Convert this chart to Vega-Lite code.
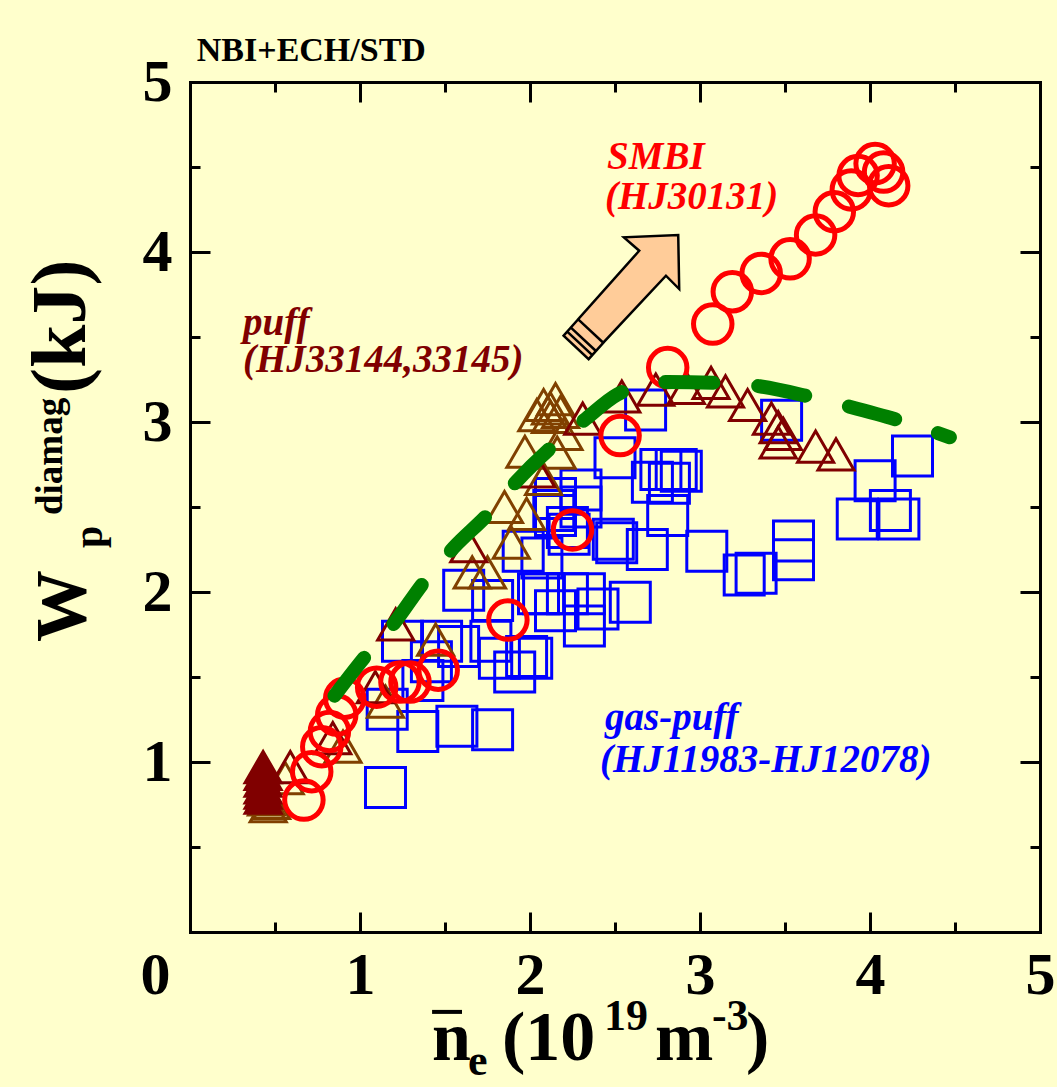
{
  "$schema": "https://vega.github.io/schema/vega-lite/v6.json",
  "width": 850,
  "height": 850,
  "autosize": {"type": "none"},
  "padding": {"left": 190, "top": 82, "right": 17, "bottom": 155},
  "background": "#FFFFCC",
  "config": {
    "view": {"stroke": null},
    "axis": {
      "domainColor": "black",
      "domainWidth": 3,
      "domainCap": "square",
      "tickColor": "black",
      "tickWidth": 3,
      "labelFont": "Liberation Serif",
      "labelFontSize": 60,
      "labelFontWeight": "bold",
      "labelColor": "black",
      "grid": false,
      "title": null
    }
  },
  "datasets": {
    "gaspuff": [
      {"x": 1.15, "y": 0.85}, {"x": 1.16, "y": 1.31}, {"x": 1.34, "y": 1.18}, {"x": 1.57, "y": 1.21},
      {"x": 1.78, "y": 1.19}, {"x": 1.25, "y": 1.71}, {"x": 1.42, "y": 1.59}, {"x": 1.37, "y": 1.48},
      {"x": 1.61, "y": 2.01}, {"x": 1.77, "y": 1.71}, {"x": 1.91, "y": 1.53}, {"x": 2.01, "y": 1.61},
      {"x": 1.96, "y": 2.24}, {"x": 2.14, "y": 2.48}, {"x": 2.30, "y": 2.60}, {"x": 2.50, "y": 2.79},
      {"x": 2.32, "y": 1.80}, {"x": 2.15, "y": 1.89}, {"x": 2.68, "y": 3.07}, {"x": 2.72, "y": 2.645},
      {"x": 2.77, "y": 2.72}, {"x": 2.86, "y": 2.72}, {"x": 2.89, "y": 2.71}, {"x": 2.81, "y": 2.45},
      {"x": 2.69, "y": 2.25}, {"x": 2.49, "y": 2.31}, {"x": 2.15, "y": 2.55}, {"x": 2.23, "y": 2.34},
      {"x": 2.08, "y": 1.99}, {"x": 2.40, "y": 1.90}, {"x": 2.59, "y": 1.94}, {"x": 1.82, "y": 1.61},
      {"x": 1.98, "y": 1.62}, {"x": 3.48, "y": 3.01}, {"x": 3.04, "y": 2.24}, {"x": 3.26, "y": 2.10},
      {"x": 3.33, "y": 2.11}, {"x": 3.55, "y": 2.30}, {"x": 3.55, "y": 2.19}, {"x": 4.03, "y": 2.655},
      {"x": 4.25, "y": 2.80}, {"x": 3.925, "y": 2.43}, {"x": 4.12, "y": 2.48}, {"x": 4.17, "y": 2.43},
      {"x": 2.22, "y": 2.38}, {"x": 2.05, "y": 1.99}, {"x": 2.32, "y": 1.99}, {"x": 2.51, "y": 2.29},
      {"x": 2.07, "y": 2.20}, {"x": 1.78, "y": 1.95}, {"x": 2.22, "y": 1.99}, {"x": 2.15, "y": 2.45},
      {"x": 1.48, "y": 1.71}, {"x": 2.82, "y": 2.64}, {"x": 2.30, "y": 2.50}, {"x": 1.58, "y": 1.68}
    ],
    "puff33144": [
      {"x": 2.74, "y": 3.19}, {"x": 2.92, "y": 3.20}, {"x": 3.065, "y": 3.23}, {"x": 3.15, "y": 3.18},
      {"x": 3.28, "y": 3.10}, {"x": 3.42, "y": 3.02}, {"x": 3.46, "y": 2.97}, {"x": 3.49, "y": 2.93},
      {"x": 3.46, "y": 2.88}, {"x": 3.68, "y": 2.855}, {"x": 3.80, "y": 2.81}, {"x": 2.31, "y": 3.02},
      {"x": 2.54, "y": 3.15}, {"x": 2.04, "y": 2.71}, {"x": 1.64, "y": 2.27}, {"x": 1.21, "y": 1.81},
      {"x": 1.09, "y": 1.44}, {"x": 0.84, "y": 1.14}, {"x": 0.59, "y": 0.97}
    ],
    "puff33145": [
      {"x": 2.15, "y": 3.135}, {"x": 2.08, "y": 3.10}, {"x": 2.12, "y": 3.03}, {"x": 2.04, "y": 3.04},
      {"x": 2.12, "y": 3.08}, {"x": 2.18, "y": 3.06}, {"x": 2.20, "y": 2.93}, {"x": 1.97, "y": 2.825},
      {"x": 2.16, "y": 2.82}, {"x": 2.08, "y": 2.665}, {"x": 1.85, "y": 2.50}, {"x": 1.98, "y": 2.46},
      {"x": 1.89, "y": 2.29}, {"x": 1.66, "y": 2.115}, {"x": 1.75, "y": 2.115}, {"x": 1.445, "y": 1.72},
      {"x": 1.15, "y": 1.355}, {"x": 0.90, "y": 1.09}, {"x": 0.56, "y": 0.905}, {"x": 0.46, "y": 0.74},
      {"x": 0.48, "y": 0.76}, {"x": 0.45, "y": 0.78}
    ],
    "puffstart": [
      {"x": 0.43, "y": 0.97}, {"x": 0.43, "y": 0.93}, {"x": 0.43, "y": 0.89},
      {"x": 0.43, "y": 0.85}, {"x": 0.43, "y": 0.82}, {"x": 0.43, "y": 0.79}
    ],
    "smbi": [
      {"x": 0.67, "y": 0.776}, {"x": 0.716, "y": 0.943}, {"x": 0.775, "y": 1.09}, {"x": 0.82, "y": 1.18},
      {"x": 0.863, "y": 1.276}, {"x": 0.91, "y": 1.375}, {"x": 1.098, "y": 1.44}, {"x": 1.235, "y": 1.47},
      {"x": 1.294, "y": 1.47}, {"x": 1.46, "y": 1.54}, {"x": 1.87, "y": 1.835}, {"x": 2.25, "y": 2.365},
      {"x": 2.53, "y": 2.92}, {"x": 2.81, "y": 3.32}, {"x": 3.075, "y": 3.576}, {"x": 3.19, "y": 3.766},
      {"x": 3.36, "y": 3.874}, {"x": 3.53, "y": 3.96}, {"x": 3.68, "y": 4.10}, {"x": 3.79, "y": 4.237},
      {"x": 3.89, "y": 4.365}, {"x": 3.93, "y": 4.45}, {"x": 4.03, "y": 4.52}, {"x": 4.08, "y": 4.47},
      {"x": 4.11, "y": 4.39}
    ],
    "trend": [
      {"x": 0.85, "y": 1.39}, {"x": 1.03, "y": 1.62}, {"x": 1.20, "y": 1.815}, {"x": 1.37, "y": 2.05},
      {"x": 1.55, "y": 2.26}, {"x": 1.755, "y": 2.46}, {"x": 1.92, "y": 2.65}, {"x": 2.13, "y": 2.855},
      {"x": 2.33, "y": 3.02}, {"x": 2.51, "y": 3.16}, {"x": 2.65, "y": 3.215}, {"x": 2.81, "y": 3.235},
      {"x": 3.11, "y": 3.23}, {"x": 3.35, "y": 3.21}, {"x": 3.64, "y": 3.15}, {"x": 3.88, "y": 3.09},
      {"x": 4.17, "y": 3.01}, {"x": 4.47, "y": 2.91}
    ],
    "arrow": [{"x": 2.532, "y": 3.734}],
    "notes": [
      {"t": "SMBI", "x": 2.453, "y": 4.49, "c": "#FF0000"},
      {"t": "(HJ30131)", "x": 2.441, "y": 4.255, "c": "#FF0000"},
      {"t": "puff", "x": 0.312, "y": 3.512, "c": "#800000"},
      {"t": "(HJ33144,33145)", "x": 0.312, "y": 3.294, "c": "#800000"},
      {"t": "gas-puff", "x": 2.441, "y": 1.188, "c": "#0000FF"},
      {"t": "(HJ11983-HJ12078)", "x": 2.412, "y": 0.941, "c": "#0000FF"}
    ],
    "heads": [
      {"t": "NBI+ECH/STD", "x": 0.04, "y": 5.124, "fs": 34},
      {"t": "n", "x": 1.424, "y": -0.753, "fs": 70},
      {"t": "e", "x": 1.635, "y": -0.841, "fs": 44},
      {"t": "(10", "x": 1.835, "y": -0.753, "fs": 70},
      {"t": "19", "x": 2.435, "y": -0.576, "fs": 44},
      {"t": "m", "x": 2.735, "y": -0.753, "fs": 70},
      {"t": "-3", "x": 3.07, "y": -0.576, "fs": 44},
      {"t": ")", "x": 3.27, "y": -0.753, "fs": 70}
    ],
    "ytitle": [
      {"t": "W", "x": -0.618, "y": 1.706, "fs": 72},
      {"t": "p", "x": -0.518, "y": 2.259, "fs": 40},
      {"t": "diamag", "x": -0.753, "y": 2.453, "fs": 37},
      {"t": "(kJ)", "x": -0.618, "y": 3.165, "fs": 78}
    ],
    "overbar": [{"x": 1.424, "x2": 1.6, "y": -0.47}]
  },
  "resolve": {"axis": {"x": "independent", "y": "independent"}},
  "layer": [
    {
      "data": {"name": "gaspuff"},
      "mark": {"type": "point", "shape": "square", "filled": false, "stroke": "#0000FF", "strokeWidth": 3, "size": 1600, "opacity": 1},
      "encoding": {
        "x": {
          "field": "x", "type": "quantitative",
          "scale": {"domain": [0, 5], "nice": false, "zero": false},
          "axis": {
            "orient": "bottom",
            "values": [0, 0.5, 1, 1.5, 2, 2.5, 3, 3.5, 4, 4.5, 5],
            "labelExpr": "datum.value % 1 === 0 ? format(datum.value, 'd') : ''",
            "tickSize": {"condition": {"test": "datum.value % 1 === 0", "value": -20}, "value": -10},
            "labelPadding": 34,
            "labelOffset": {"condition": {"test": "datum.value === 0", "value": -35}, "value": 0},
            "labelBaseline": "top",
            "labelAlign": "center",
            "labelOverlap": false,
            "labelFlush": false
          }
        },
        "y": {
          "field": "y", "type": "quantitative",
          "scale": {"domain": [0, 5], "nice": false, "zero": false},
          "axis": {
            "orient": "left",
            "values": [0, 0.5, 1, 1.5, 2, 2.5, 3, 3.5, 4, 4.5, 5],
            "labelExpr": "datum.value % 1 === 0 && datum.value > 0 ? format(datum.value, 'd') : ''",
            "tickSize": {"condition": {"test": "datum.value % 1 === 0", "value": -20}, "value": -10},
            "labelPadding": 38,
            "labelAlign": "right",
            "labelBaseline": "middle",
            "labelOverlap": false,
            "labelFlush": false
          }
        }
      }
    },
    {
      "data": {"name": "puff33145"},
      "mark": {"type": "point", "shape": "triangle-up", "filled": false, "stroke": "#804000", "strokeWidth": 3, "size": 1300, "opacity": 1},
      "encoding": {
        "x": {
          "field": "x", "type": "quantitative",
          "scale": {"domain": [0, 5], "nice": false, "zero": false},
          "axis": {
            "orient": "top",
            "values": [0, 0.5, 1, 1.5, 2, 2.5, 3, 3.5, 4, 4.5, 5],
            "labels": false,
            "tickSize": {"condition": {"test": "datum.value % 1 === 0", "value": -20}, "value": -10}
          }
        },
        "y": {
          "field": "y", "type": "quantitative",
          "scale": {"domain": [0, 5], "nice": false, "zero": false},
          "axis": {
            "orient": "right",
            "values": [0, 0.5, 1, 1.5, 2, 2.5, 3, 3.5, 4, 4.5, 5],
            "labels": false,
            "tickSize": {"condition": {"test": "datum.value % 1 === 0", "value": -20}, "value": -10}
          }
        }
      }
    },
    {
      "data": {"name": "puff33144"},
      "mark": {"type": "point", "shape": "triangle-up", "filled": false, "stroke": "#800000", "strokeWidth": 3, "size": 1300, "opacity": 1},
      "encoding": {
        "x": {"field": "x", "type": "quantitative", "scale": {"domain": [0, 5], "nice": false, "zero": false}, "axis": null},
        "y": {"field": "y", "type": "quantitative", "scale": {"domain": [0, 5], "nice": false, "zero": false}, "axis": null}
      }
    },
    {
      "data": {"name": "puffstart"},
      "mark": {"type": "point", "shape": "triangle-up", "filled": true, "fill": "#800000", "stroke": "#800000", "strokeWidth": 3, "size": 1300, "opacity": 1},
      "encoding": {
        "x": {"field": "x", "type": "quantitative", "scale": {"domain": [0, 5], "nice": false, "zero": false}, "axis": null},
        "y": {"field": "y", "type": "quantitative", "scale": {"domain": [0, 5], "nice": false, "zero": false}, "axis": null}
      }
    },
    {
      "data": {"name": "smbi"},
      "mark": {"type": "point", "shape": "circle", "filled": false, "stroke": "#FF0000", "strokeWidth": 5, "size": 1480, "opacity": 1},
      "encoding": {
        "x": {"field": "x", "type": "quantitative", "scale": {"domain": [0, 5], "nice": false, "zero": false}, "axis": null},
        "y": {"field": "y", "type": "quantitative", "scale": {"domain": [0, 5], "nice": false, "zero": false}, "axis": null}
      }
    },
    {
      "data": {"name": "trend"},
      "mark": {"type": "line", "color": "#008000", "strokeWidth": 14, "strokeDash": [48, 45], "strokeCap": "round", "interpolate": "monotone"},
      "encoding": {
        "x": {"field": "x", "type": "quantitative", "scale": {"domain": [0, 5], "nice": false, "zero": false}, "axis": null},
        "y": {"field": "y", "type": "quantitative", "scale": {"domain": [0, 5], "nice": false, "zero": false}, "axis": null}
      }
    },
    {
      "data": {"name": "arrow"},
      "mark": {
        "type": "point",
        "shape": "M0.932,-1.003 L0.948,-0.132 L0.734,-0.347 L-0.277,0.734 L-0.681,0.356 L0.303,-0.750 L0.056,-0.966 Z M-0.681,0.356 L-0.277,0.734 L-0.513,0.999 L-0.917,0.621 Z M-0.799,0.489 L-0.395,0.867 M-0.858,0.555 L-0.454,0.933",
        "filled": true,
        "fill": "#FFCC99",
        "stroke": "black",
        "strokeWidth": 2.5,
        "strokeJoin": "miter",
        "size": 15376,
        "opacity": 1
      },
      "encoding": {
        "x": {"field": "x", "type": "quantitative", "scale": {"domain": [0, 5], "nice": false, "zero": false}, "axis": null},
        "y": {"field": "y", "type": "quantitative", "scale": {"domain": [0, 5], "nice": false, "zero": false}, "axis": null}
      }
    },
    {
      "data": {"name": "notes"},
      "mark": {"type": "text", "font": "Liberation Serif", "fontWeight": "bold", "fontStyle": "italic", "fontSize": 39, "align": "left", "baseline": "alphabetic"},
      "encoding": {
        "x": {"field": "x", "type": "quantitative", "scale": {"domain": [0, 5], "nice": false, "zero": false}, "axis": null},
        "y": {"field": "y", "type": "quantitative", "scale": {"domain": [0, 5], "nice": false, "zero": false}, "axis": null},
        "text": {"field": "t"},
        "color": {"field": "c", "type": "nominal", "scale": null}
      }
    },
    {
      "data": {"name": "heads"},
      "mark": {"type": "text", "font": "Liberation Serif", "fontWeight": "bold", "align": "left", "baseline": "alphabetic", "color": "black"},
      "encoding": {
        "x": {"field": "x", "type": "quantitative", "scale": {"domain": [0, 5], "nice": false, "zero": false}, "axis": null},
        "y": {"field": "y", "type": "quantitative", "scale": {"domain": [0, 5], "nice": false, "zero": false}, "axis": null},
        "text": {"field": "t"},
        "size": {"field": "fs", "type": "quantitative", "scale": null}
      }
    },
    {
      "data": {"name": "ytitle"},
      "mark": {"type": "text", "font": "Liberation Serif", "fontWeight": "bold", "align": "left", "baseline": "alphabetic", "angle": 270, "color": "black"},
      "encoding": {
        "x": {"field": "x", "type": "quantitative", "scale": {"domain": [0, 5], "nice": false, "zero": false}, "axis": null},
        "y": {"field": "y", "type": "quantitative", "scale": {"domain": [0, 5], "nice": false, "zero": false}, "axis": null},
        "text": {"field": "t"},
        "size": {"field": "fs", "type": "quantitative", "scale": null}
      }
    },
    {
      "data": {"name": "overbar"},
      "mark": {"type": "rule", "color": "black", "strokeWidth": 4},
      "encoding": {
        "x": {"field": "x", "type": "quantitative", "scale": {"domain": [0, 5], "nice": false, "zero": false}, "axis": null},
        "x2": {"field": "x2"},
        "y": {"field": "y", "type": "quantitative", "scale": {"domain": [0, 5], "nice": false, "zero": false}, "axis": null}
      }
    }
  ]
}
